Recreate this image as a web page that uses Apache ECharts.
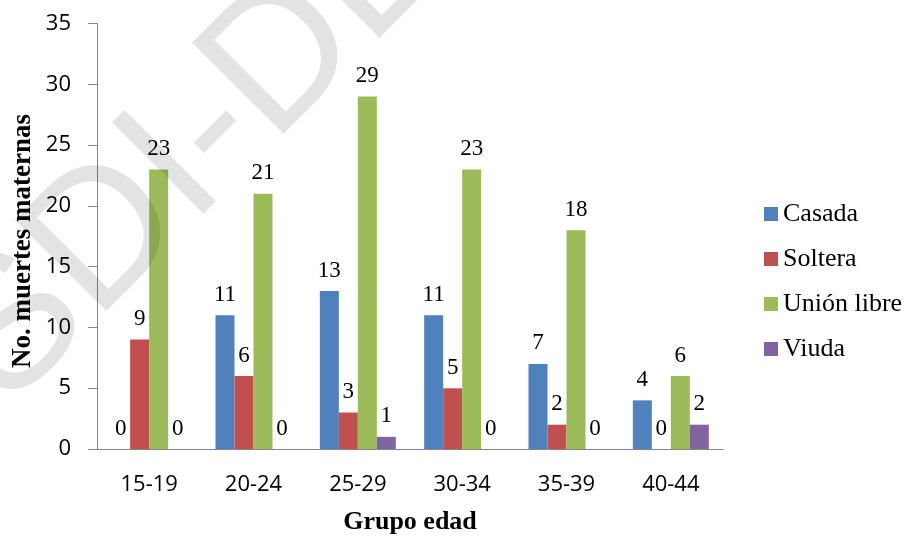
<!DOCTYPE html>
<html>
<head>
<meta charset="utf-8">
<script src="https://cdn.jsdelivr.net/npm/echarts@6/dist/echarts.min.js"></script>
<style>
  html, body { margin: 0; padding: 0; background: #ffffff; }
  #chart { width: 907px; height: 537px; }
</style>
</head>
<body>
<div id="chart"></div>
<script>
// Age groups on the category axis
const grupos = ['15-19', '20-24', '25-29', '30-34', '35-39', '40-44'];

// Maternal deaths by marital status
const casada = [0, 11, 13, 11, 7, 4];
const soltera = [9, 6, 3, 5, 2, 0];
const unionLibre = [23, 21, 29, 23, 18, 6];
const viuda = [0, 0, 1, 0, 0, 2];

const seriesNames = ['Casada', 'Soltera', 'Unión libre', 'Viuda'];
const seriesColors = ['#4f81bd', '#c0504d', '#9bbb59', '#8064a2'];
const seriesData = [casada, soltera, unionLibre, viuda];

const yTicks = { min: 0, max: 35, interval: 5 };

const chart = echarts.init(document.getElementById('chart'), null, { renderer: 'canvas' });

const serif = 'Liberation Serif';
const sans = 'Open Sans';

chart.setOption({
  animation: false,
  backgroundColor: '#ffffff',
  textStyle: { fontFamily: serif, color: '#000' },
  grid: { left: 97, right: 184, top: 23.5, bottom: 88, containLabel: false },
  legend: {
    orient: 'vertical',
    left: 759,
    top: 196,
    itemWidth: 14,
    itemHeight: 14,
    itemGap: 19,
    icon: 'rect',
    textStyle: { fontFamily: serif, fontSize: 26, color: '#000' },
    data: seriesNames
  },
  xAxis: {
    type: 'category',
    data: grupos,
    axisLine: { lineStyle: { color: '#868686', width: 1 } },
    axisTick: { show: false },
    axisLabel: { fontFamily: sans, fontSize: 22, color: '#000', margin: 25 },
    splitLine: { show: false }
  },
  yAxis: {
    type: 'value',
    min: yTicks.min,
    max: yTicks.max,
    interval: yTicks.interval,
    axisLine: { show: true, lineStyle: { color: '#868686', width: 1 } },
    axisTick: { show: true, length: 9, lineStyle: { color: '#868686' } },
    axisLabel: { fontFamily: sans, fontSize: 22, color: '#000', margin: 26 },
    splitLine: { show: false }
  },
  series: seriesNames.map((name, i) => ({
    name: name,
    type: 'bar',
    data: seriesData[i],
    barWidth: 19,
    barGap: '0%',
    itemStyle: { color: seriesColors[i] },
    label: {
      show: true,
      position: 'top',
      distance: 9,
      fontFamily: serif,
      fontSize: 23,
      color: '#000'
    }
  })),
  graphic: [
    {
      type: 'text',
      x: 23,
      y: 241,
      rotation: Math.PI / 2,
      style: {
        text: 'No. muertes maternas',
        font: 'bold 27px "Liberation Serif"',
        fill: '#000',
        textAlign: 'center',
        textVerticalAlign: 'middle',
        align: 'center',
        verticalAlign: 'middle'
      }
    },
    {
      type: 'text',
      x: 410,
      y: 522,
      style: {
        text: 'Grupo edad',
        font: 'bold 26px "Liberation Serif"',
        fill: '#000',
        textAlign: 'center',
        textVerticalAlign: 'middle',
        align: 'center',
        verticalAlign: 'middle'
      }
    },
    {
      // faint diagonal watermark lying over the plot
      type: 'text',
      x: -30,
      y: 374,
      rotation: Math.PI / 4,
      z: 100,
      silent: true,
      style: {
        text: 'SDI-DE',
        font: '188px "Liberation Sans"',
        fill: 'rgba(0,0,0,0.11)',
        textAlign: 'left',
        textVerticalAlign: 'middle',
        align: 'left',
        verticalAlign: 'middle'
      }
    }
  ]
});
</script>
</body>
</html>
